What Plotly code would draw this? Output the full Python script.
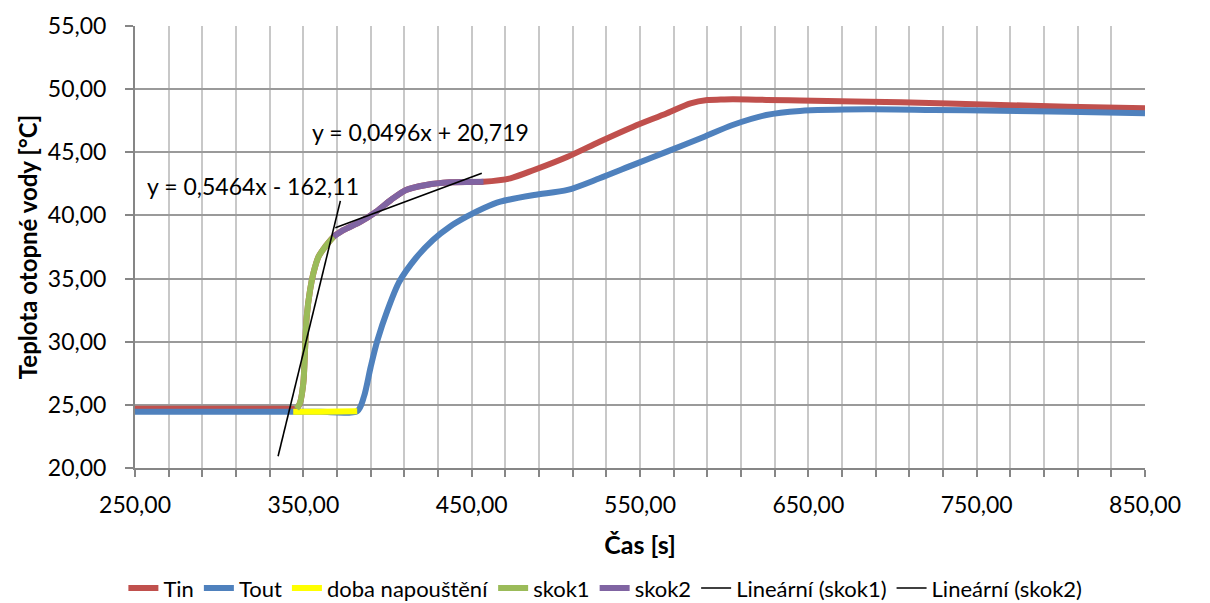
import plotly.graph_objects as go

# ---- data ----
tin_x = [250, 300, 340, 346, 348, 350, 351, 352, 354, 356, 359, 363, 368, 374, 384, 392, 402, 411, 423, 437, 457,
         473, 487, 507, 526, 546, 566, 580, 590, 598, 605, 625, 645, 705, 764, 804, 850]
tin_y = [24.7, 24.7, 24.7, 24.7, 25.15, 26.73, 29.35, 31.98, 34.1, 35.44, 36.73, 37.53, 38.32, 38.85, 39.51, 40.17, 41.22, 42.02, 42.41, 42.62, 42.67,
         42.94, 43.6, 44.65, 45.84, 47.03, 48.09, 48.88, 49.14, 49.17, 49.2, 49.15, 49.1, 48.96, 48.75, 48.61, 48.48]

tout_x = [250, 300, 344, 360, 382, 386, 390, 394, 400, 407, 417, 427, 437, 447, 457, 467, 487, 507, 526, 546, 566, 586,
          605, 625, 645, 685, 724, 764, 804, 850]
tout_y = [24.45, 24.45, 24.45, 24.45, 24.5, 25.65, 28.0, 30.1, 32.5, 34.75, 36.65, 38.06, 39.11, 39.9, 40.57, 41.09, 41.62, 42.02, 42.94, 44.0, 45.05, 46.11,
          47.16, 47.95, 48.27, 48.4, 48.35, 48.29, 48.21, 48.09]

doba_x = [344, 360, 382]
doba_y = [24.45, 24.45, 24.5]

skok1_x = [346, 348, 350, 351, 352, 354, 356, 359, 363, 368]
skok1_y = [24.7, 25.15, 26.73, 29.35, 31.98, 34.1, 35.44, 36.73, 37.53, 38.32]

skok2_x = [368, 374, 384, 392, 402, 411, 423, 437, 457]
skok2_y = [38.32, 38.85, 39.51, 40.17, 41.22, 42.02, 42.41, 42.62, 42.67]

trend1_coef = (0.5464, -162.11)
trend1_range = [335, 372]
trend2_coef = (0.0496, 20.719)
trend2_range = [369, 456]

labels = ["Tin", "Tout", "doba napouštění", "skok1", "skok2", "Lineární (skok1)", "Lineární (skok2)"]
eq1_text = "y = 0,5464x - 162,11"
eq2_text = "y = 0,0496x + 20,719"

FONT = "Lato"

fig = go.Figure()

def colored(x, y, name, color):
    fig.add_trace(go.Scatter(x=x, y=y, name=name, mode="lines",
                             line=dict(color=color, width=6, shape="spline", smoothing=0.8)))

colored(tin_x, tin_y, labels[0], "#C0504D")
colored(tout_x, tout_y, labels[1], "#4F81BD")
colored(doba_x, doba_y, labels[2], "#FFFF00")
colored(skok1_x, skok1_y, labels[3], "#9BBB59")
colored(skok2_x, skok2_y, labels[4], "#8064A2")

for coef, rng, name in [(trend1_coef, trend1_range, labels[5]), (trend2_coef, trend2_range, labels[6])]:
    ty = [coef[0] * v + coef[1] for v in rng]
    fig.add_trace(go.Scatter(x=rng, y=ty, name=name, mode="lines",
                             line=dict(color="black", width=1.6)))

fig.add_annotation(x=320, y=42.33, text=eq1_text, showarrow=False,
                   font=dict(family=FONT, size=23, color="black"))
fig.add_annotation(x=419.5, y=46.6, text=eq2_text, showarrow=False,
                   font=dict(family=FONT, size=23, color="black"))

# page body has an 8 px default margin, so the figure is offset by (8, 8)
fig.update_layout(
    width=1202, height=595,
    margin=dict(l=127, r=65, t=18, b=135, autoexpand=False),
    paper_bgcolor="white", plot_bgcolor="white",
    separators=", ",
    font=dict(family=FONT, size=20, color="black"),
    showlegend=True,
    legend=dict(orientation="h", xref="container", x=0.497, xanchor="center",
                yref="container", y=0.025, yanchor="middle",
                font=dict(family=FONT, size=22, color="black"),
                itemwidth=30, tracegroupgap=0, bgcolor="rgba(0,0,0,0)"),
)

fig.update_xaxes(
    automargin=True,
    range=[250, 850], tick0=250, dtick=100, tickformat=".2f",
    showgrid=True, gridcolor="#C8C8C8", gridwidth=1.5,
    minor=dict(dtick=20, tick0=250, showgrid=True, gridcolor="#C8C8C8", gridwidth=1.5,
               ticks="outside", ticklen=7, tickcolor="#868686", tickwidth=1.5),
    ticks="outside", ticklen=7, tickcolor="#868686", tickwidth=1.5,
    showline=True, linecolor="#868686", linewidth=2,
    ticklabelstandoff=8,
    tickfont=dict(family=FONT, size=23),
    title=dict(text="<b>Čas [s]</b>", font=dict(family=FONT, size=25), standoff=20),
    zeroline=False,
)
fig.update_yaxes(
    automargin=True,
    range=[20, 55], tick0=20, dtick=5, tickformat=".2f",
    showgrid=True, gridcolor="#9A9A9A", gridwidth=1.5,
    ticks="outside", ticklen=8, tickcolor="#868686", tickwidth=1.5,
    showline=True, linecolor="#868686", linewidth=2,
    ticklabelstandoff=14,
    tickfont=dict(family=FONT, size=23),
    title=dict(text="<b>Teplota otopné vody [°C]</b>", font=dict(family=FONT, size=24), standoff=3),
    zeroline=False,
)

fig.write_html("out.html")
